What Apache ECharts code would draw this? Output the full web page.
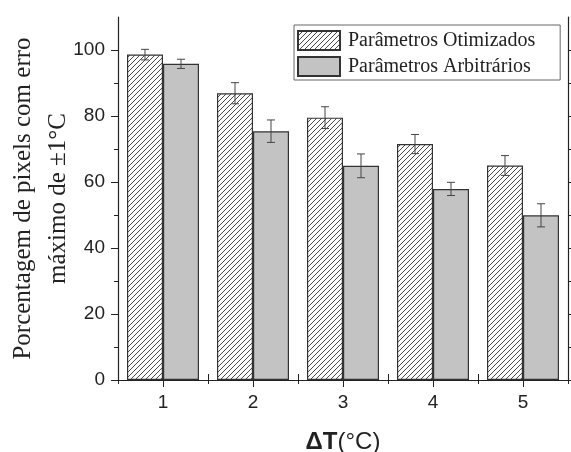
<!DOCTYPE html>
<html>
<head>
<meta charset="utf-8">
<script src="https://cdn.jsdelivr.net/npm/echarts@6/dist/echarts.min.js"></script>
<style>
html,body{margin:0;padding:0;background:#fff;}
#chart{width:571px;height:452px;}
</style>
</head>
<body>
<div id="chart"></div>
<script>
// ---- data ----
const categories = ['1', '2', '3', '4', '5'];
const seriesNames = ['Parâmetros Otimizados', 'Parâmetros Arbitrários'];
const otimizados = [98.6, 86.9, 79.5, 71.5, 65.0];
const otimizadosErr = [1.6, 3.2, 3.3, 2.9, 3.0];
const arbitrarios = [95.8, 75.4, 64.9, 57.9, 49.9];
const arbitrariosErr = [1.4, 3.4, 3.6, 2.0, 3.5];
const yMajorTicks = [0, 20, 40, 60, 80, 100];
const yMinorTicks = [10, 30, 50, 70, 90];
const yAllTicks = [0, 10, 20, 30, 40, 50, 60, 70, 80, 90, 100];

// hatch pattern
function makeHatch() {
  const c = document.createElement('canvas');
  const s = 5;
  c.width = s; c.height = s;
  const ctx = c.getContext('2d');
  ctx.fillStyle = '#ffffff';
  ctx.fillRect(0, 0, s, s);
  ctx.strokeStyle = '#4a4a4a';
  ctx.lineWidth = 1;
  for (let k = -s; k <= s; k += s) {
    ctx.beginPath();
    ctx.moveTo(k, s);
    ctx.lineTo(k + s, 0);
    ctx.stroke();
  }
  return c;
}
const hatch = { image: makeHatch(), repeat: 'repeat' };

const chart = echarts.init(document.getElementById('chart'), null, { renderer: 'canvas' });

function errorSeries(values, errs, side) {
  return {
    type: 'custom',
    xAxisIndex: 0,
    yAxisIndex: 0,
    silent: true,
    z: 10,
    data: values.map((v, i) => [i, v - errs[i], v + errs[i]]),
    renderItem: function (params, api) {
      const band = api.size([1, 0])[0];
      const off = side * band * 0.2;
      const lo = api.coord([api.value(0), api.value(1)]);
      const hi = api.coord([api.value(0), api.value(2)]);
      const x = lo[0] + off;
      const cw = 4;
      const style = { stroke: '#444', lineWidth: 1, fill: null };
      return {
        type: 'group',
        children: [
          { type: 'line', shape: { x1: x, y1: lo[1], x2: x, y2: hi[1] }, style: style },
          { type: 'line', shape: { x1: x - cw, y1: lo[1], x2: x + cw, y2: lo[1] }, style: style },
          { type: 'line', shape: { x1: x - cw, y1: hi[1], x2: x + cw, y2: hi[1] }, style: style }
        ]
      };
    }
  };
}

const axisColor = '#222';
const option = {
  animation: false,
  backgroundColor: '#fff',
  grid: { left: 118, right: 3, top: 17, bottom: 72, containLabel: false, outerBoundsMode: 'none' },
  legend: {
    orient: 'vertical',
    left: 294,
    top: 25,
    data: seriesNames,
    itemWidth: 42,
    itemHeight: 19,
    itemGap: 5,
    icon: 'rect',
    borderColor: '#666',
    borderWidth: 1,
    borderRadius: 0,
    padding: [5, 25, 3, 3],
    textStyle: { fontFamily: 'Liberation Serif', fontSize: 20, color: '#222', lineHeight: 19, padding: [0, 0, 0, 3] }
  },
  xAxis: [
    {
      type: 'category',
      position: 'bottom',
      data: categories,
      axisLine: { show: true, lineStyle: { color: axisColor, width: 1.2 } },
      axisTick: { show: true, alignWithLabel: true, length: 7, lineStyle: { color: axisColor } },
      axisLabel: { fontFamily: 'Liberation Sans', fontSize: 19, color: '#222', margin: 13 },
      name: '{b|ΔT}{n|(°C)}',
      nameLocation: 'middle',
      nameGap: 50,
      nameMoveOverlap: false,
      nameTextStyle: {
        rich: {
          b: { fontFamily: 'Liberation Sans', fontSize: 24, fontWeight: 'bold', color: '#222' },
          n: { fontFamily: 'Liberation Sans', fontSize: 24, color: '#222' }
        }
      },
      splitLine: { show: false }
    },
    {
      type: 'category',
      position: 'bottom',
      data: categories,
      axisLine: { show: false },
      axisTick: { show: true, length: 4, lineStyle: { color: axisColor } },
      axisLabel: { show: false },
      splitLine: { show: false }
    },
    {
      type: 'value',
      position: 'top',
      min: 0.5,
      max: 5.5,
      interval: 0.5,
      axisLine: { show: true, lineStyle: { color: axisColor, width: 1.2 } },
      axisTick: { show: true, length: 6, lineStyle: { color: axisColor } },
      axisLabel: { show: false },
      splitLine: { show: false }
    }
  ],
  yAxis: [
    {
      type: 'value',
      position: 'left',
      min: 0,
      max: 110,
      interval: 20,
      axisLine: { show: true, lineStyle: { color: axisColor, width: 1.2 } },
      axisTick: { show: true, length: 7, customValues: yMajorTicks, lineStyle: { color: axisColor } },
      axisLabel: { fontFamily: 'Liberation Sans', fontSize: 19, color: '#222', margin: 13, customValues: yMajorTicks },
      splitLine: { show: false },
      name: 'Porcentagem de pixels com erro\nmáximo de ±1°C',
      nameLocation: 'middle',
      nameRotate: 90,
      nameGap: 42,
      nameMoveOverlap: false,
      nameTextStyle: { fontFamily: 'Liberation Serif', fontSize: 25, color: '#222', lineHeight: 35 }
    },
    {
      type: 'value',
      position: 'left',
      min: 0,
      max: 110,
      axisLine: { show: false },
      axisTick: { show: true, length: 4, customValues: yMinorTicks, lineStyle: { color: axisColor } },
      axisLabel: { show: false },
      splitLine: { show: false }
    },
    {
      type: 'value',
      position: 'right',
      min: 0,
      max: 110,
      axisLine: { show: true, lineStyle: { color: axisColor, width: 1.2 } },
      axisTick: { show: true, length: 5, customValues: yAllTicks, lineStyle: { color: axisColor } },
      axisLabel: { show: false },
      splitLine: { show: false }
    }
  ],
  series: [
    {
      name: seriesNames[0],
      type: 'bar',
      xAxisIndex: 0,
      yAxisIndex: 0,
      data: otimizados,
      barWidth: '40%',
      barGap: '0%',
      itemStyle: { color: hatch, borderColor: '#333', borderWidth: 1.2 }
    },
    {
      name: seriesNames[1],
      type: 'bar',
      xAxisIndex: 0,
      yAxisIndex: 0,
      data: arbitrarios,
      barWidth: '40%',
      barGap: '0%',
      itemStyle: { color: '#c3c3c3', borderColor: '#333', borderWidth: 1.2 }
    },
    errorSeries(otimizados, otimizadosErr, -1),
    errorSeries(arbitrarios, arbitrariosErr, 1)
  ]
};
chart.setOption(option);
</script>
</body>
</html>
